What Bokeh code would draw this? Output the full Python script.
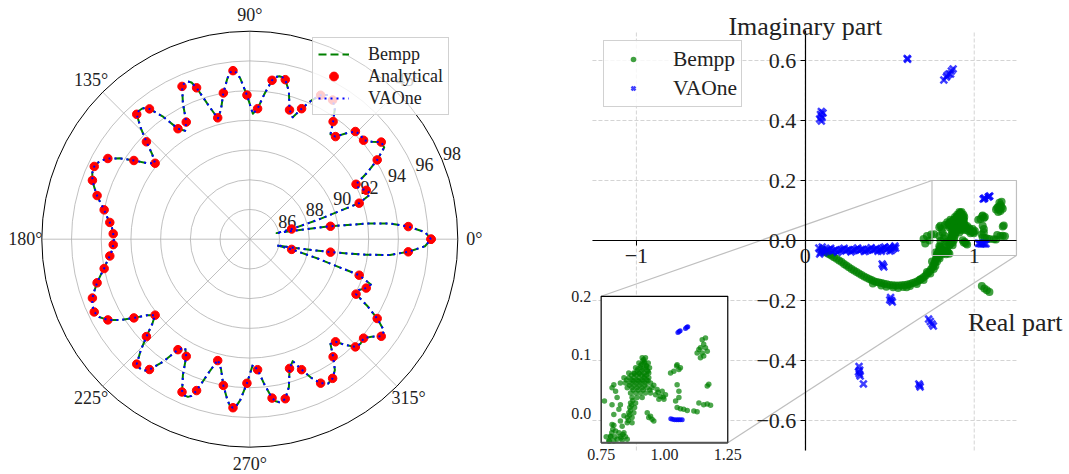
import numpy as np
from bokeh.plotting import figure
from bokeh.layouts import row
from bokeh.models import (Range1d, Legend, LegendItem, LinearAxis, FixedTicker,
                          CustomJSTickFormatter, Label)
from bokeh.core.properties import value
from bokeh.embed import file_html
from bokeh.resources import INLINE

FONT = "Liberation Serif"

# ------------------------------------------------------------------ data: directivity (dB)
r_ticks = [86, 88, 90, 92, 94, 96, 98]
theta_ticks = [0, 45, 90, 135, 180, 225, 270, 315]
theta_labels = ["0°", "45°", "90°", "135°", "180°", "225°", "270°", "315°"]

# analytical values, 0 .. 177.7 deg (pattern is mirror-symmetric about 0 deg)
analytical_half = [96.2, 94.7, 89.5, 86.9, 91.75, 92.5, 92.05, 94.1, 95.0, 94.15,
                   94.15, 93.0, 93.7, 94.9, 94.8, 93.45, 93.1, 95.0, 94.8, 92.8,
                   93.7, 95.4, 94.0, 92.45, 94.8, 95.25, 92.97, 92.87, 95.07, 95.34,
                   93.56, 92.17, 93.43, 94.99, 95.56, 95.31, 94.69, 94.0, 93.49, 93.2]

# computed curves (Bempp / VAOne coincide), upper half
curve_half_deg = [0, 2.3, 4.56, 6.4, 7.65, 9.11, 10.3, 11.6, 12.8, 13.67, 15.9, 18.23, 20.5,
                  22.78, 25.0, 27.34, 29.6, 31.9, 34.3, 36.46, 38.7, 41.0, 43.3, 45.57, 47.85,
                  50.13, 52.4, 54.68, 56.95, 59.24, 61.5, 63.8, 66.1, 68.35, 70.6, 72.9, 75.2,
                  77.47, 78.6, 79.75, 80.9, 82.03, 84.3, 86.58, 88.6, 91.14, 93.4, 94.6, 95.7,
                  96.8, 98.0, 100.25, 102.5, 104.8, 107.1, 109.37, 110.4, 111.4, 112.6, 113.9,
                  116.2, 118.48, 120.8, 123.04, 125.3, 127.6, 128.6, 129.6, 130.9, 132.15,
                  134.4, 136.7, 139.0, 141.27, 143.5, 145.8, 148.1, 150.38, 152.6, 154.94,
                  157.2, 159.49, 161.8, 164.05, 166.3, 168.6, 170.9, 173.16, 175.4, 177.72, 180]
curve_half_db = [96.2, 95.8, 94.7, 93.5, 91.9, 89.5, 87.7, 86.5, 85.85, 86.9, 88.8, 91.75, 92.7,
                 92.5, 92.1, 92.05, 93.1, 94.1, 94.95, 95.0, 94.5, 94.15, 94.25, 94.15, 93.6,
                 93.0, 92.9, 93.7, 94.5, 94.9, 95.05, 94.8, 94.2, 93.45, 92.7, 93.1, 94.3,
                 95.0, 95.12, 95.15, 95.05, 94.8, 93.8, 92.8, 92.45, 93.7, 94.85, 95.25, 95.4,
                 95.3, 94.9, 94.0, 92.95, 92.4, 93.4, 94.8, 95.25, 95.4, 95.4, 95.25,
                 94.2, 92.97, 92.5, 92.87, 94.1, 95.07, 95.3, 95.4, 95.42, 95.34,
                 94.5, 93.56, 92.7, 92.17, 92.6, 93.43, 94.3, 94.99, 95.4, 95.56,
                 95.5, 95.31, 95.0, 94.69, 94.35, 94.0, 93.75, 93.49, 93.3, 93.2, 93.15]

# ------------------------------------------------------------------ data: complex values
x_ticks = [-1, 0, 1]
y_ticks = [-0.6, -0.4, -0.2, 0.0, 0.2, 0.4, 0.6]
inset_x_ticks = [0.75, 1.00, 1.25]
inset_x_labels = ["0.75", "1.00", "1.25"]
inset_y_ticks = [0.0, 0.1, 0.2]
inset_y_labels = ["0.0", "0.1", "0.2"]

bempp_arc_re = [0.10, 0.12, 0.145, 0.17, 0.20, 0.229, 0.258, 0.288, 0.318, 0.348, 0.378, 0.407,
                0.436, 0.466, 0.50, 0.535, 0.57, 0.605, 0.635, 0.664, 0.69, 0.713, 0.735, 0.753,
                0.765, 0.773, 0.783, 0.792, 0.80, 0.45, 0.52, 0.58, 0.62, 0.68, 0.72, 0.75,
                0.76, 0.78, 0.79, 0.77,
                0.11, 0.132, 0.157, 0.185, 0.215, 0.243, 0.273, 0.303, 0.333, 0.363, 0.392,
                0.421, 0.451, 0.483, 0.518, 0.552, 0.587, 0.62, 0.65, 0.677, 0.702, 0.724,
                0.744, 0.759, 0.769, 0.778, 0.788, 0.796,
                0.40, 0.48, 0.55, 0.60, 0.66, 0.70, 0.74, 0.77, 0.795, 0.805]
bempp_arc_im = [-0.030, -0.039, -0.047, -0.056, -0.067, -0.078, -0.089, -0.100, -0.110, -0.120,
                -0.128, -0.136, -0.140, -0.144, -0.148, -0.150, -0.149, -0.147, -0.142, -0.136,
                -0.127, -0.117, -0.103, -0.089, -0.075, -0.061, -0.047, -0.033, -0.020, -0.150,
                -0.156, -0.155, -0.152, -0.130, -0.105, -0.070, -0.095, -0.070, -0.055, -0.040,
                -0.034, -0.043, -0.051, -0.061, -0.072, -0.083, -0.095, -0.105, -0.115, -0.124,
                -0.132, -0.138, -0.142, -0.146, -0.149, -0.150, -0.148, -0.145, -0.139, -0.132,
                -0.122, -0.110, -0.096, -0.082, -0.068, -0.054, -0.040, -0.027,
                -0.143, -0.154, -0.158, -0.156, -0.145, -0.132, -0.110, -0.085, -0.060, -0.040]
bempp_core_re = [0.912, 0.925, 0.899, 0.919, 0.936, 0.886, 0.905, 0.925, 0.941,
                 0.859, 0.879, 0.899, 0.919, 0.938, 0.840, 0.859, 0.879, 0.899, 0.919, 0.938,
                 0.826, 0.846, 0.866, 0.886, 0.905, 0.925, 0.945,
                 0.853, 0.872, 0.892, 0.912, 0.932, 0.951, 0.971, 0.991,
                 0.866, 0.886, 0.905, 0.925, 0.945, 0.965, 0.984, 1.004,
                 0.872, 0.892, 0.912, 0.978, 0.998, 0.866, 0.886, 0.863, 0.882,
                 0.859, 0.879, 0.853, 0.872, 0.853, 0.872,
                 0.820, 0.840, 0.826, 0.846, 0.813, 0.833, 0.853,
                 0.915, 0.905, 0.928, 0.892, 0.912, 0.932, 0.869, 0.889, 0.909, 0.929,
                 0.876, 0.896, 0.915, 0.935, 0.958, 0.975, 0.995,
                 0.918, 0.922, 0.910, 0.930, 0.895, 0.915, 0.935, 0.882, 0.902, 0.922,
                 0.850, 0.870, 0.890, 0.910, 0.930, 0.862, 0.882, 0.902, 0.922, 0.942,
                 0.876, 0.896, 0.916, 0.875, 0.870, 0.866, 0.862, 0.858, 0.836, 0.828]
bempp_core_im = [0.095, 0.095, 0.086, 0.086, 0.086, 0.078, 0.078, 0.078, 0.078,
                 0.069, 0.069, 0.069, 0.069, 0.069, 0.061, 0.061, 0.061, 0.061, 0.061, 0.061,
                 0.052, 0.052, 0.052, 0.052, 0.052, 0.052, 0.052,
                 0.044, 0.044, 0.044, 0.044, 0.044, 0.044, 0.041, 0.038,
                 0.035, 0.035, 0.035, 0.035, 0.035, 0.032, 0.029, 0.032,
                 0.027, 0.027, 0.027, 0.024, 0.024, 0.018, 0.018, 0.010, 0.010,
                 0.001, 0.001, -0.007, -0.007, -0.016, -0.016,
                 -0.033, -0.033, -0.039, -0.040, -0.044, -0.046, -0.044,
                 0.090, 0.082, 0.082, 0.073, 0.073, 0.073, 0.065, 0.065, 0.065, 0.065,
                 0.056, 0.056, 0.056, 0.056, 0.048, 0.036, 0.028,
                 0.092, 0.088, 0.084, 0.080, 0.076, 0.076, 0.072, 0.068, 0.068, 0.064,
                 0.057, 0.057, 0.057, 0.057, 0.057, 0.048, 0.048, 0.048, 0.048, 0.040,
                 0.040, 0.040, 0.040, 0.022, 0.014, 0.005, -0.003, -0.012, -0.036, -0.042]
bempp_sparse_re = [0.800, 0.793, 0.807, 0.763, 0.813, 0.793, 0.826, 0.800, 0.820, 0.826, 0.793,
                   0.807, 0.787, 0.780, 0.800, 0.840, 0.833,
                   0.932, 0.945, 0.951, 0.938, 0.958,
                   1.050, 1.057, 1.037, 1.024, 1.063, 1.048, 1.057, 1.050, 1.057, 1.044,
                   1.050, 1.063, 1.076, 1.090, 1.116, 1.129, 1.136,
                   1.149, 1.162, 1.155, 1.142, 1.162, 1.129, 1.149, 1.169, 1.142, 1.155, 1.136,
                   1.169, 1.175, 1.155, 1.169, 1.182,
                   1.045, 1.060, 1.075, 1.090, 0.700, 0.720, 0.735, 0.745, 0.710]
bempp_sparse_im = [0.049, 0.044, 0.038, 0.021, 0.027, 0.015, 0.015, -0.002, 0.007, -0.013, -0.019,
                   -0.030, -0.039, -0.047, -0.047, -0.004, -0.022,
                   0.001, -0.005, -0.010, -0.007, -0.013,
                   0.083, 0.075, 0.072, 0.069, 0.078, 0.081, 0.038, 0.049, 0.027, 0.021,
                   0.010, 0.008, 0.007, 0.005, 0.004, 0.003, 0.018,
                   0.126, 0.129, 0.118, 0.112, 0.112, 0.103, 0.103, 0.106, 0.095, 0.098, 0.109,
                   0.047, 0.050, 0.015, 0.016, 0.014,
                   -0.152, -0.160, -0.166, -0.172, 0.005, 0.015, 0.000, 0.020, -0.010]

vaone_re = [0.08, 0.09, 0.10, 0.12, 0.14, 0.16, 0.18, 0.20, 0.22, 0.24, 0.26, 0.28, 0.30, 0.32,
            0.34, 0.36, 0.38, 0.40, 0.42, 0.44, 0.46, 0.48, 0.50, 0.52, 0.535,
            0.085, 0.10, 0.50, 0.53, 0.45,
            0.11, 0.15, 0.19, 0.23, 0.27, 0.31, 0.35, 0.39, 0.43, 0.47, 0.51,
            0.13, 0.17, 0.21, 0.25, 0.29, 0.33, 0.37, 0.41, 0.45, 0.49, 0.525,
            0.085, 0.095, 0.10, 0.09, 0.105, 0.095,
            0.603, 0.606,
            0.82, 0.835, 0.85, 0.865, 0.875, 0.84, 0.86,
            0.455, 0.465, 0.46,
            0.505, 0.51, 0.515, 0.50,
            0.73, 0.74, 0.75, 0.758,
            0.318, 0.322, 0.32, 0.325, 0.315, 0.344,
            0.672, 0.68, 0.677,
            1.053, 1.058, 1.062, 1.083, 1.088, 1.092,
            1.025, 1.032, 1.040, 1.048, 1.055, 1.062, 1.070]
vaone_im = [-0.025, -0.040, -0.032, -0.035, -0.030, -0.036, -0.031, -0.034, -0.030, -0.035,
            -0.031, -0.034, -0.030, -0.033, -0.029, -0.034, -0.030, -0.032, -0.027, -0.031,
            -0.025, -0.030, -0.022, -0.028, -0.025,
            -0.045, -0.022, -0.035, -0.018, -0.036,
            -0.040, -0.026, -0.039, -0.026, -0.038, -0.025, -0.037, -0.024, -0.036, -0.022,
            -0.033,
            -0.031, -0.033, -0.032, -0.031, -0.032, -0.030, -0.031, -0.030, -0.029, -0.027,
            -0.024,
            0.405, 0.430, 0.410, 0.420, 0.425, 0.398,
            0.607, 0.604,
            0.535, 0.545, 0.555, 0.565, 0.572, 0.550, 0.555,
            -0.078, -0.088, -0.083,
            -0.190, -0.200, -0.205, -0.198,
            -0.262, -0.270, -0.278, -0.285,
            -0.420, -0.432, -0.445, -0.452, -0.438, -0.478,
            -0.478, -0.488, -0.483,
            0.138, 0.140, 0.141, 0.145, 0.147, 0.148,
            -0.009, -0.010, -0.011, -0.011, -0.011, -0.011, -0.011]

# ================================================================== LEFT: polar plot
W1, H = 530, 474
PX = 14.857            # pixels per dB on the radial axis
CX, CY = 249.3, 238.7  # centre of the polar axes in the canvas
R0 = 84                # radial origin (dB)

p1 = figure(width=W1, height=H, output_backend="svg", toolbar_location=None,
            x_range=Range1d(-CX / PX, (W1 - CX) / PX), y_range=Range1d(-(H - CY) / PX, CY / PX),
            x_axis_type=None, y_axis_type=None, min_border=0, outline_line_color=None)
p1.grid.visible = False

rr = [r - R0 for r in r_ticks]
p1.circle(x=[0] * (len(rr) - 1), y=[0] * (len(rr) - 1), radius=rr[:-1],
          fill_color=None, line_color="#b0b0b0", line_width=0.8)
th = np.radians(theta_ticks)
p1.segment(x0=[0] * len(th), y0=[0] * len(th), x1=list(rr[-1] * np.cos(th)),
           y1=list(rr[-1] * np.sin(th)), line_color="#b0b0b0", line_width=0.8)
p1.circle(x=[0], y=[0], radius=[rr[-1]], fill_color=None, line_color="black", line_width=1)

lab_r = 224.5 / PX
p1.text(x=list(lab_r * np.cos(th)), y=list(lab_r * np.sin(th)), text=theta_labels,
        text_align="center", text_baseline="middle", text_font=value(FONT),
        text_font_size="18px", text_color="#222222")
a_lab = np.radians(22.5)
p1.text(x=[r * np.cos(a_lab) for r in rr], y=[r * np.sin(a_lab) for r in rr],
        text=[str(r) for r in r_ticks], text_align="left", text_baseline="bottom",
        x_offset=1, y_offset=0, text_font=value(FONT), text_font_size="18px",
        text_color="#222222")

curve_deg = curve_half_deg + [360 - a for a in reversed(curve_half_deg[:-1])]
curve_db = curve_half_db + list(reversed(curve_half_db[:-1]))
cth = np.radians(curve_deg)
cr = np.array(curve_db) - R0
cx, cy = list(cr * np.cos(cth)), list(cr * np.sin(cth))

an_deg = np.linspace(0, 360, 80)
an_db = analytical_half + analytical_half[::-1]
ath = np.radians(an_deg)
ar = np.array(an_db) - R0

r_bempp = p1.line(cx, cy, line_color="green", line_width=2, line_dash="8 4",
                  line_join="round")
r_anal = p1.scatter(list(ar * np.cos(ath)), list(ar * np.sin(ath)), marker="circle", size=8.5,
                    fill_color="red", line_color="red")
r_vaone = p1.line(cx, cy, line_color="blue", line_width=2, line_dash="2 4", line_join="round")

leg1 = Legend(items=[LegendItem(label="Bempp", renderers=[r_bempp]),
                     LegendItem(label="Analytical", renderers=[r_anal]),
                     LegendItem(label="VAOne", renderers=[r_vaone])],
              location=(312, H - 115), label_text_font=FONT, label_text_font_size="18px",
              label_text_color="#222222", glyph_width=31, glyph_height=22, label_height=22,
              label_standoff=19, padding=5, spacing=0, margin=0,
              border_line_color="#cccccc", border_line_alpha=0.9,
              background_fill_alpha=0.8)
p1.add_layout(leg1)

# ================================================================== RIGHT: complex plane
W2 = 1069 - W1
XR = (-1.26, 1.25)       # axes box limits
YR = (-0.7, 0.7)
SX, SY = 168.92, 300.0   # pixels per unit
OX, OY = 274.8, 240.0    # canvas position of the origin
p2 = figure(width=W2, height=H, output_backend="svg", toolbar_location=None,
            x_range=Range1d(-OX / SX, (W2 - OX) / SX), y_range=Range1d(-(H - OY) / SY, OY / SY),
            x_axis_type=None, y_axis_type=None, min_border=0, outline_line_color=None)
xr_full = (p2.x_range.start, p2.x_range.end)
yr_full = (p2.y_range.start, p2.y_range.end)

# dashed grid inside the axes box
p2.segment(x0=x_ticks, y0=[YR[0]] * len(x_ticks), x1=x_ticks, y1=[YR[1]] * len(x_ticks),
           line_color="#d4d4d4", line_dash="4 2", line_width=1, level="underlay")
p2.segment(x0=[XR[0]] * len(y_ticks), y0=y_ticks, x1=[XR[1]] * len(y_ticks), y1=y_ticks,
           line_color="#d4d4d4", line_dash="4 2", line_width=1, level="underlay")

xfmt = CustomJSTickFormatter(code="return (tick < 0 ? '\u2212' : '') + Math.abs(tick).toFixed(0);")
yfmt = CustomJSTickFormatter(code="return (tick < -1e-9 ? '\u2212' : '') + Math.abs(tick).toFixed(1);")
common_ax = dict(axis_line_color="black", axis_line_width=1.2, major_tick_out=5, major_tick_in=0,
                 minor_tick_out=0, minor_tick_in=0, major_tick_line_color="black",
                 major_label_text_font=FONT, major_label_text_font_size="22px",
                 major_label_text_color="#222222", fixed_location=0)
xax = LinearAxis(ticker=FixedTicker(ticks=x_ticks), formatter=xfmt, major_label_standoff=3,
                 bounds=XR, **common_ax)
yax = LinearAxis(ticker=FixedTicker(ticks=y_ticks), formatter=yfmt, major_label_standoff=4,
                 bounds=YR, **common_ax)
p2.add_layout(xax, "below")
p2.add_layout(yax, "left")

# inset placement (in main data coordinates) and inset data window
INSET_BOX = dict(x0=-1.2085, x1=-0.459, y0=-0.674, y1=-0.186)
IN_X = (0.75, 1.25)
IN_Y = (-0.05, 0.2)


def mapped_range(main, box_lo, box_hi, win):
    a = (win[1] - win[0]) / (box_hi - box_lo)
    return Range1d(win[0] + (main[0] - box_lo) * a, win[0] + (main[1] - box_lo) * a)


p2.extra_x_ranges = {"ins": mapped_range(xr_full, INSET_BOX["x0"], INSET_BOX["x1"], IN_X)}
p2.extra_y_ranges = {"ins": mapped_range(yr_full, INSET_BOX["y0"], INSET_BOX["y1"], IN_Y)}

b_re = np.array(bempp_arc_re + bempp_core_re + bempp_sparse_re)
b_im = np.array(bempp_arc_im + bempp_core_im + bempp_sparse_im)
v_re = np.array(vaone_re)
v_im = np.array(vaone_im)

r_b = p2.scatter(list(b_re), list(b_im), marker="circle", size=8, fill_color="green",
                 line_color=None, fill_alpha=0.75)
r_v = p2.scatter(list(v_re), list(v_im), marker="x", size=9.5, line_color="blue",
                 line_width=2.5, line_alpha=0.75)

# zoom indicator and connectors
p2.quad(left=[IN_X[0]], right=[IN_X[1]], bottom=[IN_Y[0]], top=[IN_Y[1]], fill_color=None,
        line_color="#bfbfbf", line_width=1.2)
p2.segment(x0=[INSET_BOX["x0"], INSET_BOX["x1"]], y0=[INSET_BOX["y1"], INSET_BOX["y0"]],
           x1=[IN_X[0], IN_X[1]], y1=[IN_Y[1], IN_Y[0]], line_color="#bfbfbf", line_width=1.2)

# inset axes
INS = dict(x_range_name="ins", y_range_name="ins")
p2.quad(left=[IN_X[0]], right=[IN_X[1]], bottom=[IN_Y[0]], top=[IN_Y[1]], fill_color="white",
        line_color="black", line_width=1.2, **INS)
mb = (b_re >= IN_X[0]) & (b_re <= IN_X[1]) & (b_im >= IN_Y[0]) & (b_im <= IN_Y[1])
mv = (v_re >= IN_X[0]) & (v_re <= IN_X[1]) & (v_im >= IN_Y[0]) & (v_im <= IN_Y[1])
p2.scatter(list(b_re[mb]), list(b_im[mb]), marker="circle", size=5.5, fill_color="green",
           line_color=None, fill_alpha=0.7, **INS)
p2.scatter(list(v_re[mv]), list(v_im[mv]), marker="circle", size=5, fill_color="blue",
           line_color=None, fill_alpha=0.8, **INS)
p2.segment(x0=[IN_X[0]], y0=[IN_Y[0]], x1=[IN_X[1]], y1=[IN_Y[0]], line_color="#555555",
           line_width=2, **INS)
p2.text(x=inset_x_ticks, y=[IN_Y[0]] * 3, text=inset_x_labels, text_align="center",
        text_baseline="top", y_offset=6, text_font=value(FONT), text_font_size="16px",
        text_color="#222222", **INS)
p2.text(x=[IN_X[0]] * 3, y=inset_y_ticks, text=inset_y_labels, text_align="right",
        text_baseline="middle", x_offset=-10, text_font=value(FONT), text_font_size="16px",
        text_color="#222222", **INS)

p2.add_layout(Label(x=0, y=0.7133, text="Imaginary part", text_align="center",
                    text_baseline="alphabetic", text_font=FONT, text_font_size="26px",
                    text_color="#222222"))
p2.add_layout(Label(x=XR[1], y=-0.272, x_offset=46, text="Real part", text_align="right",
                    text_baseline="alphabetic", text_font=FONT, text_font_size="26px",
                    text_color="#222222"))

leg2 = Legend(items=[LegendItem(label="Bempp", renderers=[r_b]),
                     LegendItem(label="VAOne", renderers=[r_v])],
              location=(73, H - 107), label_text_font=FONT, label_text_font_size="21.5px",
              label_text_color="#222222", glyph_width=50, glyph_height=14, label_height=28,
              label_standoff=15, padding=4, spacing=1, margin=0,
              border_line_color="#cccccc", border_line_alpha=0.9, background_fill_alpha=0.8)
p2.add_layout(leg2)

layout = row(p1, p2)
open("out.html", "w").write(file_html(layout, INLINE))
